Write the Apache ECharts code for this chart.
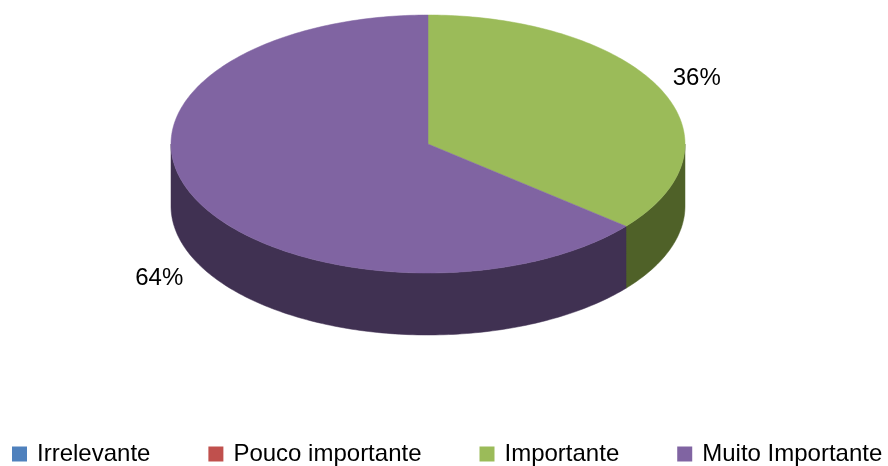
<!DOCTYPE html>
<html>
<head>
<meta charset="utf-8">
<script src="https://cdn.jsdelivr.net/npm/echarts@6/dist/echarts.min.js"></script>
<style>
  html, body { margin: 0; padding: 0; background: #fff; }
  #chart { width: 888px; height: 466px; }
</style>
</head>
<body>
<div id="chart"></div>
<script>
// ---- data ----
const categories = ['Irrelevante', 'Pouco importante', 'Importante', 'Muito Importante'];
const values = [0, 0, 36, 64];
const topColors = ['#4F81BD', '#C0504D', '#9BBB59', '#8064A2'];
const sideColors = ['#2C4D75', '#772C2A', '#4F6128', '#403152'];

// ---- 3D pie layout ----
const CX = 428, CY = 144, RX = 257, RY = 129, DEPTH = 62;
const FONT = 'Liberation Sans, Arial, sans-serif';

const total = values.reduce((a, b) => a + b, 0);

function pt(theta, dy) {
  return [CX + RX * Math.sin(theta), CY - RY * Math.cos(theta) + (dy || 0)];
}
function arc(a, b, dy) {
  const pts = [];
  const n = Math.max(2, Math.ceil((b - a) / (Math.PI / 180)));
  for (let k = 0; k <= n; k++) pts.push(pt(a + (b - a) * k / n, dy));
  return pts;
}

function renderItem(params, api) {
  const i = params.dataIndex;
  const v = api.value(0);
  if (!v) return null;
  let before = 0;
  for (let j = 0; j < i; j++) before += values[j];
  const a = before / total * Math.PI * 2;
  const b = (before + v) / total * Math.PI * 2;
  const children = [];

  // front side wall (visible where the arc faces the viewer)
  const s = Math.max(a, Math.PI / 2), e = Math.min(b, Math.PI * 1.5);
  if (e > s) {
    const topArc = arc(s, e, 0);
    const botArc = arc(s, e, DEPTH).reverse();
    children.push({
      type: 'polygon', z2: 1,
      shape: { points: topArc.concat(botArc) },
      style: { fill: sideColors[i], stroke: sideColors[i], lineWidth: 0.5 }
    });
  }
  // top face
  children.push({
    type: 'polygon', z2: 10,
    shape: { points: [[CX, CY]].concat(arc(a, b, 0)) },
    style: { fill: topColors[i], stroke: topColors[i], lineWidth: 0.5 }
  });
  // label
  const m = (a + b) / 2;
  const lx = CX + Math.sin(m) * (RX + 40);
  const ly = CY - Math.cos(m) * (RY + 25) + (Math.cos(m) < 0 ? DEPTH + 7 : 0);
  children.push({
    type: 'text', z2: 20,
    x: lx, y: ly,
    style: {
      text: Math.round(v / total * 100) + '%',
      fill: '#000', font: '24px ' + FONT,
      align: 'center', verticalAlign: 'middle'
    }
  });
  return { type: 'group', children: children };
}

const chart = echarts.init(document.getElementById('chart'), null, { renderer: 'canvas' });
chart.setOption({
  animation: false,
  backgroundColor: '#fff',
  legend: {
    data: categories,
    left: 12,
    top: 442,
    width: 876,
    padding: 0,
    icon: 'rect',
    itemWidth: 15,
    itemHeight: 15,
    itemGap: 58,
    textStyle: { fontFamily: FONT, fontSize: 24, color: '#000', padding: [0, 0, 0, 5] }
  },
  series: [
    {
      type: 'custom',
      coordinateSystem: 'none',
      renderItem: renderItem,
      data: values.map((v, i) => ({ name: categories[i], value: v })),
      silent: true
    },
    {
      type: 'pie',
      radius: [0, 0],
      center: [CX, CY],
      silent: true,
      label: { show: false },
      labelLine: { show: false },
      data: values.map((v, i) => ({ name: categories[i], value: v, itemStyle: { color: topColors[i] } }))
    }
  ]
});
</script>
</body>
</html>
